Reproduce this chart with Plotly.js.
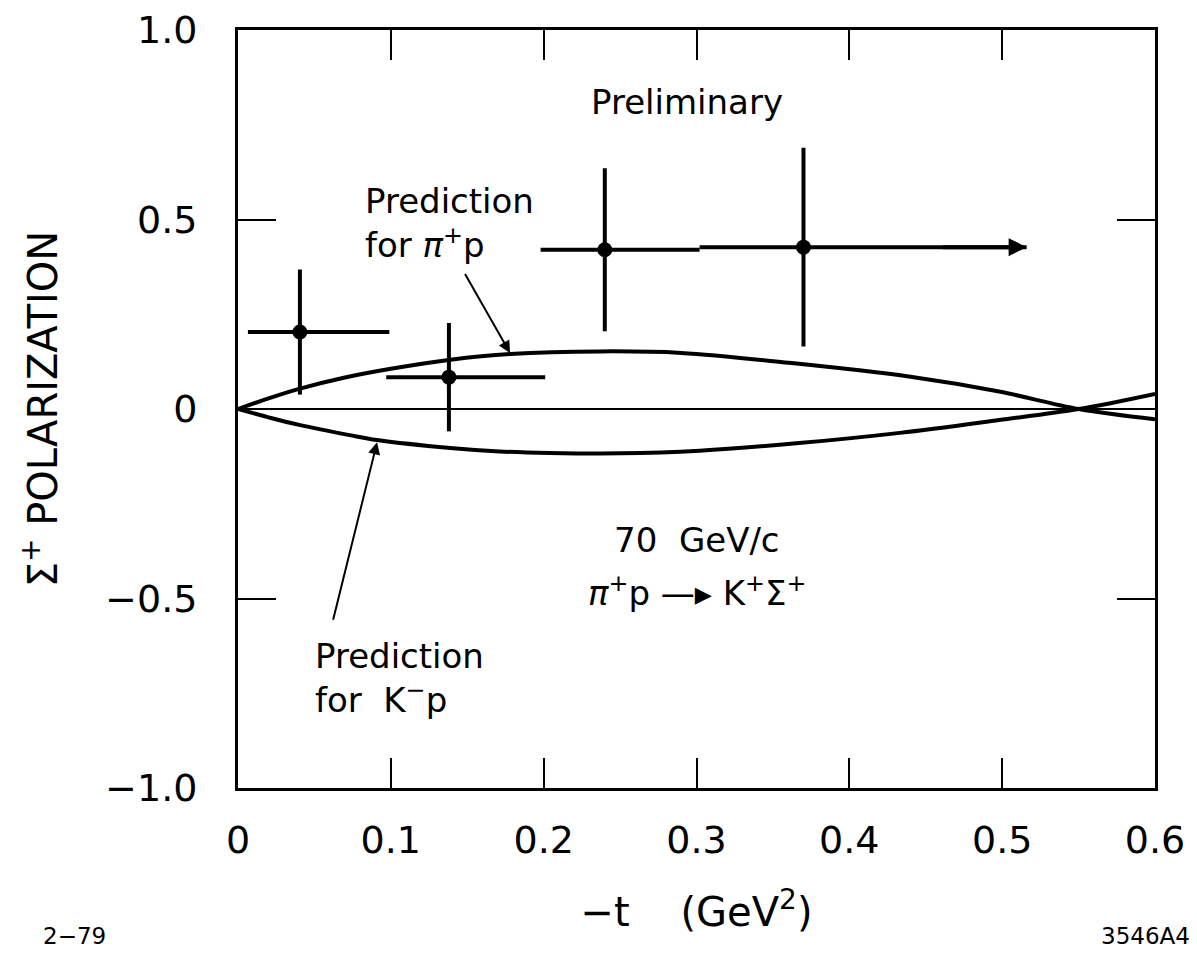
<!DOCTYPE html>
<html>
<head>
<meta charset="utf-8">
<script src="https://cdn.plot.ly/plotly-3.0.1.min.js"></script>
<style>html,body{margin:0;padding:0;background:#fff;}#chart{width:1197px;height:954px;}</style>
</head>
<body>
<div id="chart"></div>
<script>
// Measured data points (-t in GeV^2, Sigma+ polarization)
const dataT = [0.0405, 0.138, 0.240, 0.370];
const dataP = [0.203, 0.084, 0.420, 0.427];
const errP = [0.165, 0.143, 0.215, 0.262];
const tLow = [0.0065, 0.097, 0.198, 0.302];
const tHigh = [0.099, 0.201, 0.302, 0.516];

// Prediction for pi+ p
const piT = [0, 0.02, 0.04, 0.07, 0.10, 0.139, 0.178, 0.237, 0.29, 0.36, 0.44, 0.498, 0.55, 0.6];
const piP = [0, 0.028, 0.053, 0.083, 0.106, 0.13, 0.145, 0.152, 0.148, 0.122, 0.085, 0.046, 0.0, -0.027];

// Prediction for K- p
const kT = [0, 0.02, 0.04, 0.073, 0.091, 0.139, 0.171, 0.204, 0.25, 0.302, 0.367, 0.433, 0.498, 0.55, 0.6];
const kP = [0, -0.022, -0.042, -0.069, -0.082, -0.103, -0.112, -0.116, -0.117, -0.110, -0.090, -0.063, -0.029, 0.0, 0.04];

const xTickVals = [0, 0.1, 0.2, 0.3, 0.4, 0.5, 0.6];
const xTickText = ["0", "0.1", "0.2", "0.3", "0.4", "0.5", "0.6"];
const yTickVals = [1.0, 0.5, 0, -0.5, -1.0];
const yTickText = ["1.0", "0.5", "0", "\u22120.5", "\u22121.0"];

const FONT = "DejaVu Sans, Liberation Sans, sans-serif";
const ink = "#000";

const traces = [
  { x: [0, 0.6], y: [0, 0], mode: "lines", line: {color: ink, width: 2}, hoverinfo: "skip", showlegend: false },
  { x: piT, y: piP, mode: "lines", line: {color: ink, width: 4, shape: "spline", smoothing: 1.0}, showlegend: false },
  { x: kT, y: kP, mode: "lines", line: {color: ink, width: 4, shape: "spline", smoothing: 1.0}, showlegend: false },
  {
    x: dataT, y: dataP, mode: "markers", showlegend: false,
    marker: {color: ink, size: 15, symbol: "circle"},
    error_y: {type: "data", array: errP, visible: true, color: ink, thickness: 4, width: 0},
    error_x: {type: "data", symmetric: false,
      array: dataT.map((t, i) => tHigh[i] - t),
      arrayminus: dataT.map((t, i) => t - tLow[i]),
      visible: true, color: ink, thickness: 4, width: 0}
  }
];

const layout = {
  width: 1197, height: 954,
  margin: {l: 238, r: 42, t: 30, b: 166},
  paper_bgcolor: "#fff", plot_bgcolor: "#fff",
  font: {family: FONT, color: ink, size: 38},
  xaxis: {
    range: [0, 0.6], tickvals: xTickVals, ticktext: xTickText,
    ticks: "inside", ticklen: 30, tickwidth: 2, tickcolor: ink,
    showline: true, linewidth: 3, linecolor: ink, mirror: "ticks",
    showgrid: false, zeroline: false,
    tickfont: {size: 38, family: FONT}, ticklabelstandoff: 16,
    title: {text: "\u2212t&nbsp;&nbsp;&nbsp;&nbsp;(GeV<sup>2</sup>)", font: {size: 40, family: FONT}, standoff: 38}
  },
  yaxis: {
    range: [-1.0, 1.0], tickvals: yTickVals, ticktext: yTickText,
    ticks: "inside", ticklen: 38, tickwidth: 2, tickcolor: ink,
    showline: true, linewidth: 3, linecolor: ink, mirror: "ticks",
    showgrid: false, zeroline: false,
    tickfont: {size: 38, family: FONT}, ticklabelstandoff: 30,
    title: {text: "\u03A3<sup>+</sup> POLARIZATION", font: {size: 40, family: FONT}, standoff: 36}
  },
  annotations: [
    {x: 0.294, y: 0.81, xref: "x", yref: "y", text: "Preliminary", showarrow: false, font: {size: 34}, xanchor: "center"},
    {x: 0.082, y: 0.49, xref: "x", yref: "y", text: "Prediction<br>for <i>\u03C0</i><sup>+</sup>p", showarrow: false, font: {size: 34}, xanchor: "left", align: "left"},
    {x: 0.178, y: 0.148, ax: 0.148, ay: 0.36, xref: "x", yref: "y", axref: "x", ayref: "y", text: "", showarrow: true, arrowhead: 2, arrowsize: 1.2, arrowwidth: 2, arrowcolor: ink},
    {x: 0.049, y: -0.71, xref: "x", yref: "y", text: "Prediction<br>for  K<sup>\u2212</sup>p", showarrow: false, font: {size: 34}, xanchor: "left", align: "left"},
    {x: 0.091, y: -0.088, ax: 0.062, ay: -0.56, xref: "x", yref: "y", axref: "x", ayref: "y", text: "", showarrow: true, arrowhead: 2, arrowsize: 1.2, arrowwidth: 2, arrowcolor: ink},
    {x: 0.516, y: 0.427, ax: 0.46, ay: 0.427, xref: "x", yref: "y", axref: "x", ayref: "y", text: "", showarrow: true, arrowhead: 2, arrowsize: 0.9, arrowwidth: 4, arrowcolor: ink},
    {x: 0.3, y: -0.345, xref: "x", yref: "y", text: "70  GeV/c", showarrow: false, font: {size: 34}, xanchor: "center"},
    {x: 0.3, y: -0.48, xref: "x", yref: "y", text: "<i>\u03C0</i><sup>+</sup>p \u2014\u25B8 K<sup>+</sup>\u03A3<sup>+</sup>", showarrow: false, font: {size: 34}, xanchor: "center"},
    {x: -0.215, y: -0.215, xref: "paper", yref: "paper", text: "2\u221279", showarrow: false, font: {size: 23}, xanchor: "left"},
    {x: 1.04, y: -0.215, xref: "paper", yref: "paper", text: "3546A4", showarrow: false, font: {size: 23}, xanchor: "right"}
  ]
};

Plotly.newPlot("chart", traces, layout, {displayModeBar: false, staticPlot: true});
</script>
</body>
</html>
